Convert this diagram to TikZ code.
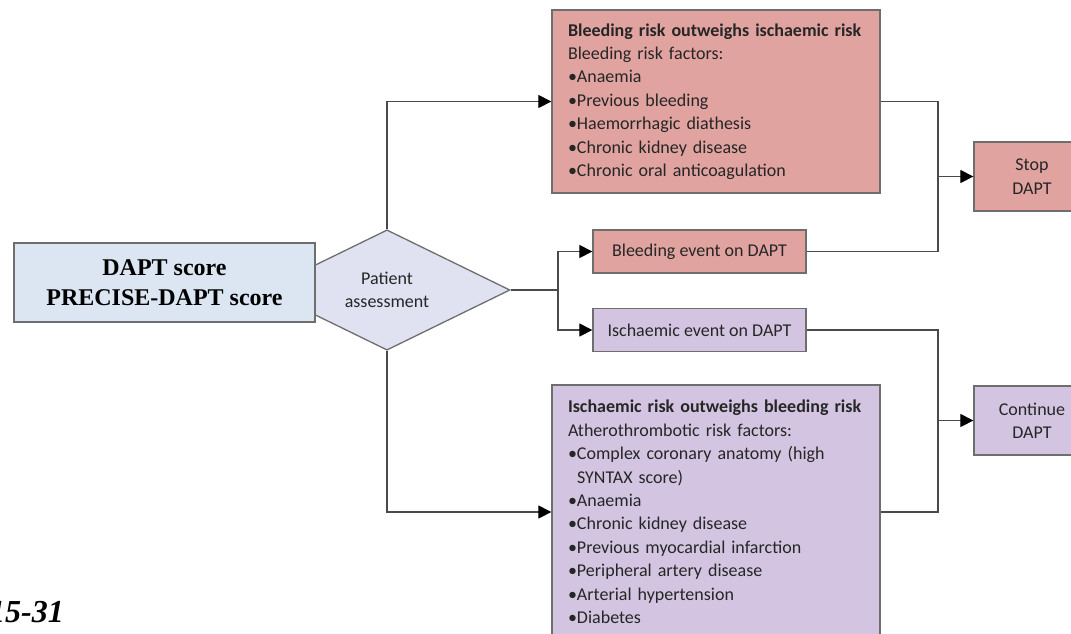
\documentclass[tikz,border=0pt]{standalone}
\usepackage{fontspec}
\setmainfont{Liberation Serif}
\newfontfamily\cf{Carlito}
\usetikzlibrary{arrows.meta,shapes.geometric}
\definecolor{redf}{HTML}{E0A3A0}
\definecolor{purf}{HTML}{D3C5E1}
\definecolor{bluef}{HTML}{DCE6F2}
\definecolor{diamf}{HTML}{E0E2F1}
\definecolor{edgec}{HTML}{6E6E6E}
\definecolor{txt}{HTML}{262626}
\definecolor{linec}{HTML}{4A4A4A}
\newcommand{\bl}{\makebox[9pt][l]{•}}
\newcommand{\ind}{\hspace*{9pt}}
\begin{document}
\begin{tikzpicture}[x=1pt,y=-1pt,
 box/.style={draw=edgec, line width=1.3pt, inner sep=0pt, font=\cf\fontsize{18}{23.4}\selectfont, text=txt, align=center},
 listbox/.style={box, align=left, inner xsep=16pt, text width=#1},
 conn/.style={draw=linec, line width=1.2pt},
 arr/.style={conn, -{Triangle[length=13pt,width=13pt,color=black]}},
]
\useasboundingbox (0,0) rectangle (1071,633);
\clip (0,0) rectangle (1071,633);

\node[diamond, draw=edgec, fill=diamf, line width=1.3pt, minimum width=246pt, minimum height=115pt, inner sep=0pt, font=\cf\fontsize{18}{23.4}\selectfont, text=txt, align=center] (pa) at (387,290) {Patient\\assessment};

\node[box, fill=bluef, minimum width=301pt, minimum height=79pt, font=\rmfamily\bfseries\fontsize{24}{30}\selectfont, text=black] (score) at (164.5,282.5) {DAPT score\\PRECISE-DAPT score};

\node[listbox=296pt, fill=redf, minimum height=183pt] (bleed) at (716,101.5) {{\bfseries Bleeding risk outweighs ischaemic risk}\\Bleeding risk factors:\\\bl Anaemia\\\bl Previous bleeding\\\bl Haemorrhagic diathesis\\\bl Chronic kidney disease\\\bl Chronic oral anticoagulation};

\node[listbox=296pt, fill=purf, minimum height=254pt] (isch) at (716,512) {{\bfseries Ischaemic risk outweighs bleeding risk}\\Atherothrombotic risk factors:\\\bl Complex coronary anatomy (high\\\ind SYNTAX score)\\\bl Anaemia\\\bl Chronic kidney disease\\\bl Previous myocardial infarction\\\bl Peripheral artery disease\\\bl Arterial hypertension\\\bl Diabetes};

\node[box, fill=redf, minimum width=213pt, minimum height=43pt] (bev) at (699.5,251.5) {Bleeding event on DAPT};
\node[box, fill=purf, minimum width=213pt, minimum height=43pt] (iev) at (699.5,330) {Ischaemic event on DAPT};

\node[box, fill=redf, minimum width=116pt, minimum height=69pt] (stop) at (1032,176.5) {Stop\\DAPT};
\node[box, fill=purf, minimum width=116pt, minimum height=69pt] (cont) at (1032,420.5) {Continue\\DAPT};

\coordinate (j1) at (558,290);
\coordinate (jr) at (938,176.5);
\coordinate (jc) at (938,420.5);

\draw[conn] (pa.east) -- (j1);
\draw[arr] (j1) |- (bev.west);
\draw[arr] (j1) |- (iev.west);
\draw[arr] (pa.north) |- (bleed.west);
\draw[arr] (pa.south) |- (isch.west);
\draw[conn] (bleed.east) -| (jr) |- (bev.east);
\draw[arr] (jr) -- (stop.west);
\draw[conn] (iev.east) -| (jc) |- (isch.east);
\draw[arr] (jc) -- (cont.west);

\node[anchor=base east, inner sep=0pt, font=\rmfamily\bfseries\itshape\fontsize{32}{32}\selectfont] (pg) at (64,622) {15-31};
\end{tikzpicture}
\end{document}
